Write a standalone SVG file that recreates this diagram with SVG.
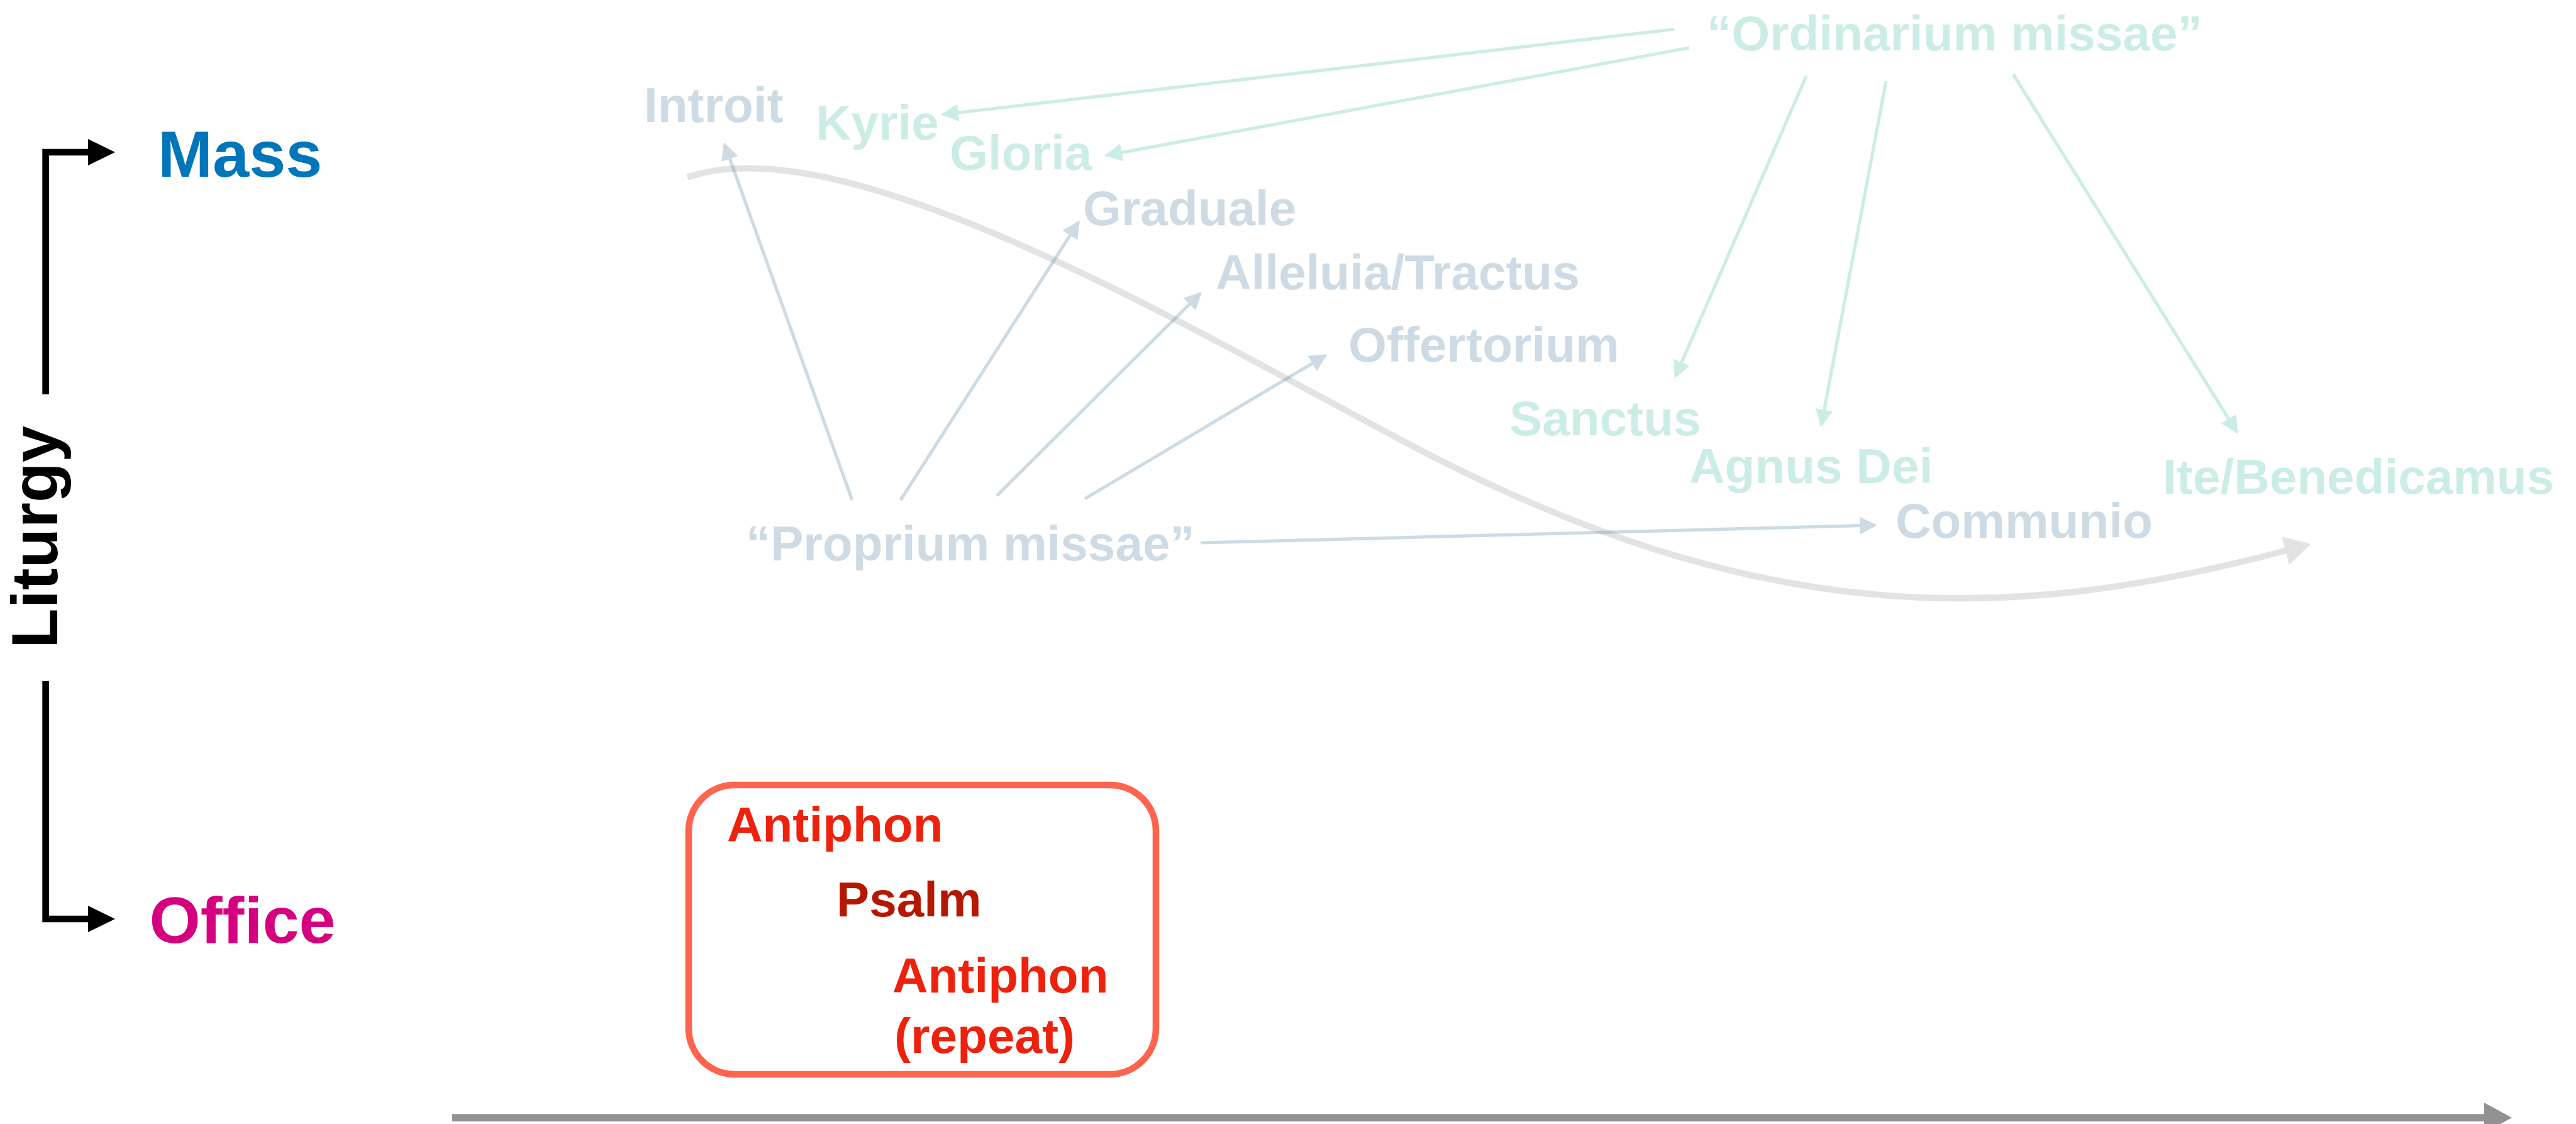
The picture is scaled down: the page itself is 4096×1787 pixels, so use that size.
<svg xmlns="http://www.w3.org/2000/svg" width="4096" height="1787" viewBox="0 0 4096 1787">
  <style>
    text { font-family: "Liberation Sans", Arial, sans-serif; font-weight: bold; }
    .big { font-size: 104.5px; }
    .lbl { font-size: 78.3px; }
    .prop { fill: #3F7397; opacity: 0.25; }
    .ord { fill: #37BB9F; opacity: 0.25; }
    .faded { opacity: 0.25; }
    .ln-prop { stroke: #3F7397; stroke-width: 5.2; fill: none; }
    .ln-ord { stroke: #37BB9F; stroke-width: 5.2; fill: none; }
    .axis { stroke: #000; stroke-width: 10.6; fill: none; }
    .anti { fill: #EE220C; }
  </style>
  <defs>
    <marker id="head-prop" markerUnits="userSpaceOnUse" viewBox="0 0 28 28" markerWidth="28" markerHeight="28" refX="25" refY="14" orient="auto">
      <path d="M0,0 L28,14 L0,28 Z" fill="#3F7397"/>
    </marker>
    <marker id="head-ord" markerUnits="userSpaceOnUse" viewBox="0 0 28 28" markerWidth="28" markerHeight="28" refX="25" refY="14" orient="auto">
      <path d="M0,0 L28,14 L0,28 Z" fill="#37BB9F"/>
    </marker>
    <marker id="head-time" markerUnits="userSpaceOnUse" viewBox="0 0 42 46" markerWidth="42" markerHeight="46" refX="2" refY="23" orient="auto">
      <path d="M0,0 L42,23 L0,46 Z" fill="#929292"/>
    </marker>
  </defs>

  <rect width="4096" height="1787" fill="#fff"/>

  <!-- Liturgy bracket on the left -->
  <g id="liturgy-axis">
    <path class="axis" d="M72.6,627 V242 H142"/>
    <polygon points="140,221 183,242 140,263" fill="#000"/>
    <path class="axis" d="M72.6,1083 V1461 H142"/>
    <polygon points="140,1440 183,1461 140,1482" fill="#000"/>
    <text class="big" transform="translate(91.4,854) rotate(-90)" text-anchor="middle" fill="#000">Liturgy</text>
  </g>

  <g id="node-mass"><text class="big" x="251" y="281" fill="#0076BA">Mass</text></g>
  <g id="node-office"><text class="big" x="237.5" y="1499" fill="#D5007F">Office</text></g>

  <!-- time axis -->
  <g id="time-axis">
    <line x1="719" y1="1777" x2="3952" y2="1777" stroke="#929292" stroke-width="11.4"/>
    <polygon points="3950,1753 3994,1777 3950,1801" fill="#929292"/>
  </g>

  <!-- connectors of the Mass -->
  <g id="connectors">
    <g class="faded"><path d="M1093,282 C1343,194.5 1892,522.5 2242,707 C2792,997 3186,995 3636,875" stroke="#929292" stroke-width="10" fill="none" marker-end="url(#head-time)"/></g>
    <g class="faded"><path class="ln-ord" d="M2662,46.5 L1499,182" marker-end="url(#head-ord)"/></g>
    <g class="faded"><path class="ln-ord" d="M2686,76 L1759,247" marker-end="url(#head-ord)"/></g>
    <g class="faded"><path class="ln-ord" d="M2872,121 L2664,599" marker-end="url(#head-ord)"/></g>
    <g class="faded"><path class="ln-ord" d="M2999,129 L2896,676" marker-end="url(#head-ord)"/></g>
    <g class="faded"><path class="ln-ord" d="M3201,118 L3557,687" marker-end="url(#head-ord)"/></g>
    <g class="faded"><path class="ln-prop" d="M1355,795 L1152,229" marker-end="url(#head-prop)"/></g>
    <g class="faded"><path class="ln-prop" d="M1432,795 L1715,353" marker-end="url(#head-prop)"/></g>
    <g class="faded"><path class="ln-prop" d="M1585,788 L1909,466" marker-end="url(#head-prop)"/></g>
    <g class="faded"><path class="ln-prop" d="M1725,793 L2108,565" marker-end="url(#head-prop)"/></g>
    <g class="faded"><path class="ln-prop" d="M1909,863 L2982,835" stroke-width="7.5" marker-end="url(#head-prop)"/></g>
  </g>

  <!-- parts of the Mass -->
  <g id="node-introit"><text class="lbl prop" x="1024" y="194">Introit</text></g>
  <g id="node-kyrie"><text class="lbl ord" x="1297" y="222">Kyrie</text></g>
  <g id="node-gloria"><text class="lbl ord" x="1510" y="270">Gloria</text></g>
  <g id="node-graduale"><text class="lbl prop" x="1722" y="358">Graduale</text></g>
  <g id="node-alleluia"><text class="lbl prop" x="1933" y="460">Alleluia/Tractus</text></g>
  <g id="node-offertorium"><text class="lbl prop" x="2144" y="575">Offertorium</text></g>
  <g id="node-proprium"><text class="lbl prop" x="1186" y="891">“Proprium missae”</text></g>
  <g id="node-sanctus"><text class="lbl ord" x="2400" y="692">Sanctus</text></g>
  <g id="node-agnus"><text class="lbl ord" x="2686" y="768">Agnus Dei</text></g>
  <g id="node-ite"><text class="lbl ord" x="3439" y="785">Ite/Benedicamus</text></g>
  <g id="node-communio"><text class="lbl prop" x="3014" y="855">Communio</text></g>
  <g id="node-ordinarium"><text class="lbl ord" x="2714" y="80">“Ordinarium missae”</text></g>

  <!-- Office: antiphon / psalm / antiphon -->
  <g id="node-office-unit">
    <rect x="1095" y="1248" width="743" height="460" rx="73" ry="73" fill="none" stroke="#FF644E" stroke-width="10.6"/>
    <text class="lbl anti" x="1156" y="1338">Antiphon</text>
    <text class="lbl" x="1330" y="1457" fill="#B51700">Psalm</text>
    <text class="lbl anti" x="1419" y="1578">Antiphon</text>
    <text class="lbl anti" x="1422" y="1674">(repeat)</text>
  </g>
</svg>
